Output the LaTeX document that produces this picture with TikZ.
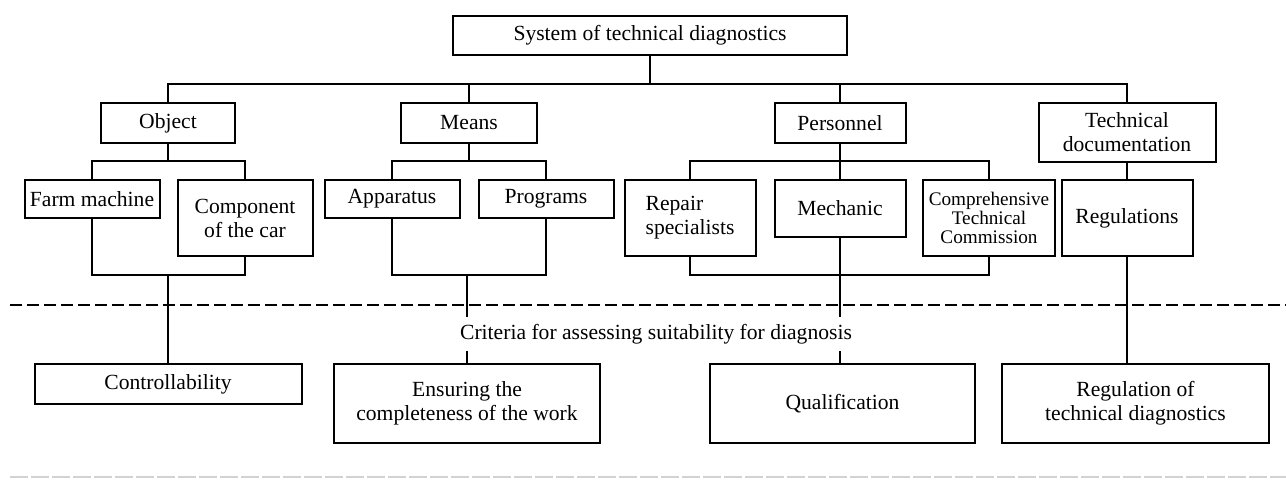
\documentclass[tikz,border=0pt]{standalone}
\usepackage{fontspec}
\setmainfont{Liberation Serif}
\begin{document}
\begin{tikzpicture}[x=0.5pt,y=-0.5pt,
		box/.style={draw,line width=1pt,align=center,inner sep=1pt,font=\fontsize{10.8}{12}\selectfont},
		link/.style={line width=1pt},
		sepline/.style={line width=1.3pt,dash pattern=on 6pt off 2.5pt}]
	\useasboundingbox (0,0) rectangle (1286,479);
	% levels of the system
	\node[box,minimum width=197pt,minimum height=19.5pt] (sys) at (650,35.5) {System of technical diagnostics};
	\node[box,minimum width=67pt,minimum height=20pt] (obj) at (168,123) {Object};
	\node[box,minimum width=68pt,minimum height=20pt] (means) at (469,123) {Means};
	\node[box,minimum width=65.5pt,minimum height=20pt] (pers) at (840,123) {Personnel};
	\node[box,minimum width=88.5pt,minimum height=29.5pt] (tdoc) at (1127,132.5) {Technical\\documentation};
	\node[box,minimum width=67.5pt,minimum height=19pt] (farm) at (92,199) {Farm machine};
	\node[box,minimum width=67.5pt,minimum height=38pt] (comp) at (245,218) {Component\\of the car};
	\node[box,minimum width=67.5pt,minimum height=19pt] (app) at (392,199) {Apparatus};
	\node[box,minimum width=67.5pt,minimum height=19pt] (prog) at (546,199) {Programs};
	\node[box,align=left,minimum width=65.5pt,minimum height=38pt] (rep) at (690,218) {Repair\\specialists};
	\node[box,minimum width=65.5pt,minimum height=28.5pt] (mech) at (840,208.5) {Mechanic};
	\node[box,font=\fontsize{9.6}{9.5}\selectfont,minimum width=66pt,minimum height=38pt] (ctc) at (989,218) {Comprehensive\\Technical\\Commission};
	\node[box,minimum width=65.5pt,minimum height=38pt] (reg) at (1127,218) {Regulations};
	% criteria
	\node[box,minimum width=133.5pt,minimum height=20pt] (ctrl) at (168,384) {Controllability};
	\node[box,minimum width=133pt,minimum height=39.5pt] (ens) at (467,403.5) {Ensuring the\\completeness of the work};
	\node[box,minimum width=132.5pt,minimum height=39.5pt] (qual) at (842.5,403.5) {Qualification};
	\node[box,minimum width=133.5pt,minimum height=39.5pt] (rgl) at (1135.5,403.5) {Regulation of\\technical diagnostics};
	\coordinate (bus) at (0,84);
	\coordinate (sub) at (0,161);
	\coordinate (join) at (0,275);
	\draw[link] (sys.south) -- (sys |- bus);
	\draw[link] (obj.north) |- (bus -| tdoc) -- (tdoc.north);
	\draw[link] (means.north) -- (means |- bus);
	\draw[link] (pers.north) -- (pers |- bus);
	\draw[link] (obj.south) -- (obj |- sub);
	\draw[link] (farm.north) |- (sub -| comp) -- (comp.north);
	\draw[link] (farm.south) |- (join -| comp) -- (comp.south);
	\draw[link] (join -| ctrl) -- (ctrl.north);
	\draw[link] (means.south) -- (means |- sub);
	\draw[link] (app.north) |- (sub -| prog) -- (prog.north);
	\draw[link] (app.south) |- (join -| prog) -- (prog.south);
	\draw[link] (join -| ens) -- (ens.north);
	\draw[link] (pers.south) -- (mech.north);
	\draw[link] (rep.north) |- (sub -| ctc) -- (ctc.north);
	\draw[link] (rep.south) |- (join -| ctc) -- (ctc.south);
	\draw[link] (mech.south) -- (mech |- qual.north);
	\draw[link] (tdoc.south) -- (reg.north);
	\draw[link] (reg.south) -- (reg |- rgl.north);
	% separators
	\coordinate (sepA) at (10,305);
	\coordinate (sepB) at (1286,305);
	\draw[sepline] (sepA) -- (sepB);
	\node[fill=white,font=\fontsize{10.8}{12}\selectfont] (crit) at (656,334) {Criteria for assessing suitability for diagnosis};
	\coordinate (endA) at (10,477);
	\coordinate (endB) at (1286,477);
	\draw[gray!35,line width=0.7pt,dash pattern=on 9pt off 1.5pt] (endA) -- (endB);
\end{tikzpicture}
\end{document}
